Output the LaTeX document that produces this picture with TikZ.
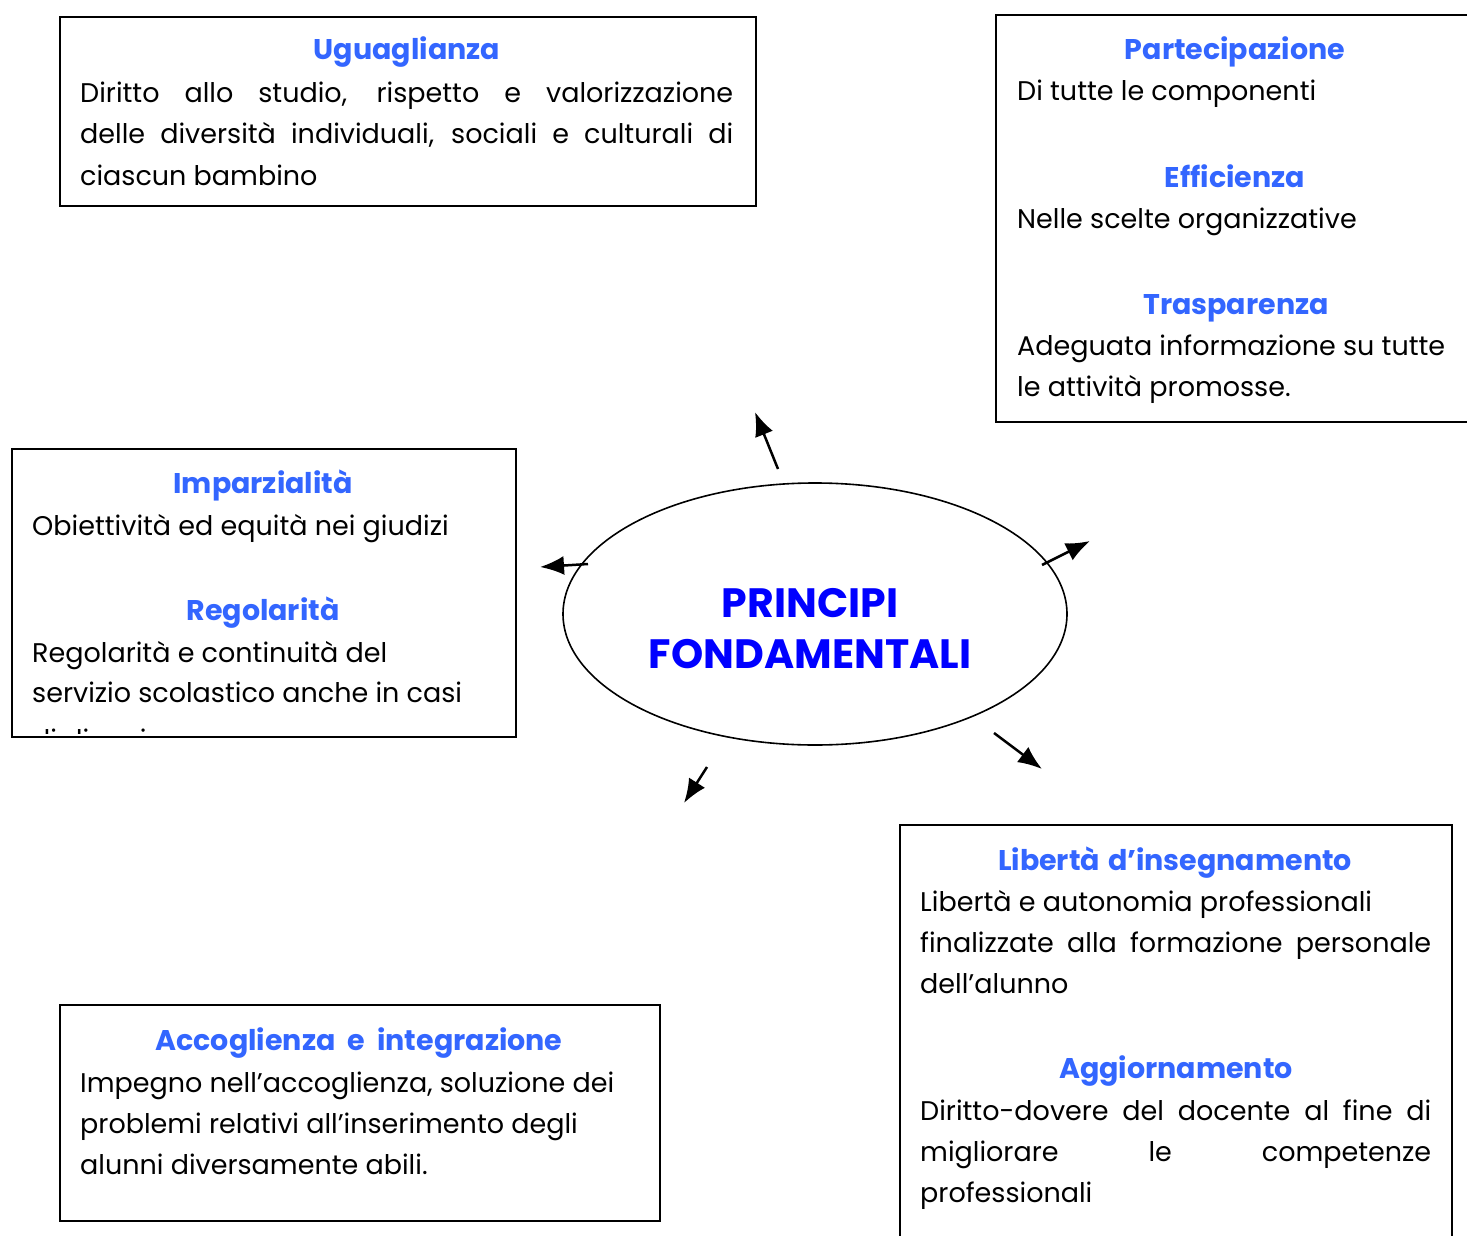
\documentclass[tikz,border=0pt]{standalone}
\usepackage{fontspec}
\setmainfont{Poppins}
\usetikzlibrary{arrows.meta,shapes.geometric}
\definecolor{titleblue}{RGB}{51,102,255}
\definecolor{mainblue}{RGB}{0,0,255}
\begin{document}
\begin{tikzpicture}[x=1pt,y=-1pt,
 box/.style={draw=black,line width=2pt,anchor=north west,inner sep=0pt},
 ttl/.style={anchor=base,font=\fontsize{28.5}{32}\selectfont\bfseries,text=titleblue,inner sep=0pt},
 txt/.style={anchor=base west,font=\fontsize{27}{32}\selectfont,inner sep=0pt},
 big/.style={anchor=base,font=\fontsize{41}{46}\selectfont\bfseries,text=mainblue,inner sep=0pt},
 arr/.style={line width=2.5pt,-{Latex[length=24pt,width=19pt]}}]
\useasboundingbox (0,0) rectangle (1467,1236);
\fill[white] (0,0) rectangle (1467,1236);

% Uguaglianza
\node[box,minimum width=696pt,minimum height=189pt] (uguBox) at (59,16) {};
\node[ttl] (uguT) at (407,60) {Uguaglianza};
\node[txt] (ugu1) at (80,103) {\makebox[653pt][s]{Diritto allo studio, rispetto e valorizzazione}};
\node[txt] (ugu2) at (80,144) {\makebox[653pt][s]{delle diversità individuali, sociali e culturali di}};
\node[txt] (ugu3) at (80,185) {ciascun bambino};

% Partecipazione
\node[box,minimum width=480pt,minimum height=407pt] (parBox) at (995,14) {};
\node[ttl] (parT) at (1235,60) {Partecipazione};
\node[txt] (par1) at (1017,101) {Di tutte le componenti};
\node[ttl] (effT) at (1235,187) {Efficienza};
\node[txt] (eff1) at (1017,228) {Nelle scelte organizzative};
\node[ttl] (traT) at (1236,314) {Trasparenza};
\node[txt] (tra1) at (1017,355) {Adeguata informazione su tutte};
\node[txt] (tra2) at (1017,396) {le attività promosse.};

% Imparzialita
\node[box,minimum width=504pt,minimum height=288pt] (impBox) at (11,448) {};
\node[ttl] (impT) at (263,493) {Imparzialità};
\node[txt] (imp1) at (32,535) {Obiettività ed equità nei giudizi};
\node[ttl] (regT) at (263,620) {Regolarità};
\node[txt] (reg1) at (32,662) {Regolarità e continuità del};
\node[txt] (reg2) at (32,702) {servizio scolastico anche in casi};
\begin{scope}
\clip (12,449) rectangle (514,733);
\node[txt] (reg3) at (32,749) {di disagio};
\end{scope}

% Ellipse
\node[draw,ellipse,line width=1.6pt,minimum width=504pt,minimum height=262pt,inner sep=0pt] (pf) at (815,614) {};
\node[big] (pf1) at (810,617) {PRINCIPI};
\node[big] (pf2) at (810,668) {FONDAMENTALI};

% Liberta
\node[box,minimum width=552pt,minimum height=420pt] (libBox) at (899,824) {};
\node[ttl] (libT) at (1175,870) {\makebox[354pt][s]{Libertà\ d’insegnamento}};
\node[txt] (lib1) at (920,911) {Libertà e autonomia professionali};
\node[txt] (lib2) at (920,952) {\makebox[511pt][s]{finalizzate alla formazione personale}};
\node[txt] (lib3) at (920,993) {dell’alunno};
\node[ttl] (aggT) at (1176,1078) {Aggiornamento};
\node[txt] (agg1) at (920,1120) {\makebox[511pt][s]{Diritto-dovere del docente al fine di}};
\node[txt] (agg2) at (920,1161) {\makebox[511pt][s]{migliorare le competenze}};
\node[txt] (agg3) at (920,1202) {professionali};

% Accoglienza
\node[box,minimum width=600pt,minimum height=216pt] (accBox) at (59,1004) {};
\node[ttl] (accT) at (359,1050) {\makebox[407pt][s]{Accoglienza e integrazione}};
\node[txt] (acc1) at (80,1092) {Impegno nell’accoglienza, soluzione dei};
\node[txt] (acc2) at (80,1133) {problemi relativi all’inserimento degli};
\node[txt] (acc3) at (80,1174) {alunni diversamente abili.};

% Arrows
\coordinate (a1s) at (778,469); \coordinate (a1e) at (755,412);
\coordinate (a2s) at (588,564); \coordinate (a2e) at (540,567);
\coordinate (a3s) at (1042,565); \coordinate (a3e) at (1090,541);
\coordinate (a4s) at (994,733); \coordinate (a4e) at (1042,769);
\coordinate (a5s) at (707,767); \coordinate (a5e) at (684,803);
\draw[arr] (a1s) -- (a1e);
\draw[arr] (a2s) -- (a2e);
\draw[arr] (a3s) -- (a3e);
\draw[arr] (a4s) -- (a4e);
\draw[arr] (a5s) -- (a5e);
\end{tikzpicture}
\end{document}
